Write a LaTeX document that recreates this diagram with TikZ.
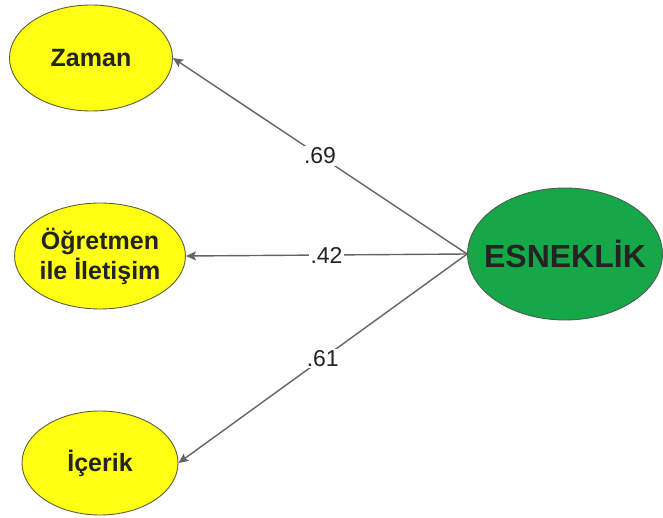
\documentclass[tikz,border=0pt]{standalone}
\usepackage{fontspec}
\setmainfont{Liberation Sans}
\usetikzlibrary{arrows.meta,shapes.geometric}
\definecolor{latfill}{RGB}{255,255,20}
\definecolor{latedge}{RGB}{95,95,60}
\definecolor{facfill}{RGB}{22,168,72}
\definecolor{facedge}{RGB}{80,90,80}
\definecolor{pathcol}{RGB}{100,100,100}
\definecolor{txtcol}{RGB}{35,35,35}

\begin{document}
\begin{tikzpicture}[
  x=1pt,y=-1pt,
  lat/.style={ellipse,draw=latedge,line width=0.9pt,fill=latfill,inner sep=0pt,
              align=center,text=txtcol,
              font=\fontsize{25}{30}\selectfont\bfseries},
  fac/.style={ellipse,draw=facedge,line width=0.9pt,fill=facfill,
              inner xsep=-12pt,inner ysep=0pt,
              text=txtcol,font=\fontsize{32}{36}\selectfont\bfseries},
  load/.style={-{Stealth[length=10pt,width=9pt,inset=2pt]},pathcol,line width=1.4pt},
  coef/.style={fill=white,inner sep=1.5pt,text=txtcol,
               font=\fontsize{23}{27}\selectfont}
]
\useasboundingbox (0,0) rectangle (663,518);
\node[lat,minimum width=163pt,minimum height=106pt] (zaman) at (91,58) {Zaman};
\node[lat,minimum width=170pt,minimum height=106pt] (ogret) at (100,256) {Öğretmen\\ile İletişim};
\node[lat,minimum width=156pt,minimum height=104pt] (icerik) at (100,463) {İçerik};
\node[fac,minimum width=192pt,minimum height=132pt] (esnek) at (565,254) {ESNEKLİK};
% yol katsayilari
\draw[load] (esnek.west) -- node[coef] {.69} (zaman.east);
\draw[load] (esnek.west) -- node[coef] {.42} (ogret.east);
\draw[load] (esnek.west) -- node[coef] {.61} (icerik.east);
\end{tikzpicture}
\end{document}
